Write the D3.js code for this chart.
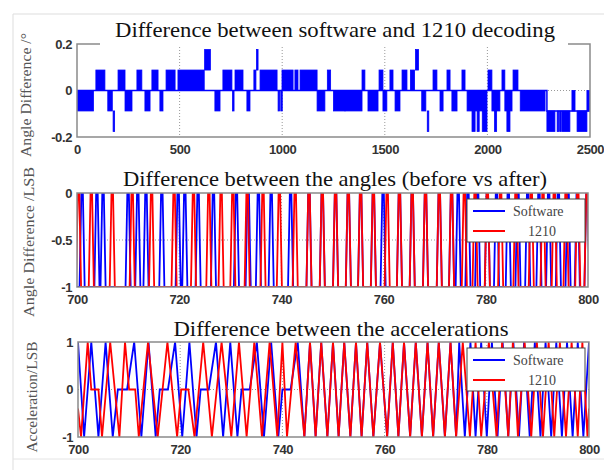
<!DOCTYPE html>
<html>
<head>
<meta charset="utf-8">
<script src="https://cdn.jsdelivr.net/npm/d3@7"></script>
<style>
    body { margin: 0; background: #fff; }
    svg { display: block; }
    .tick text { font-family: "Liberation Sans", Arial, sans-serif; font-weight: bold; font-size: 13px; letter-spacing: -0.4px; fill: #333; }
    .title { font-family: "Liberation Serif", "Times New Roman", serif; font-size: 22px; fill: #111; }
    .ylab { font-family: "Liberation Serif", "Times New Roman", serif; font-size: 14px; fill: #555; }
    .legend text { font-family: "Liberation Serif", "Times New Roman", serif; font-size: 14px; fill: #444; }
</style>
</head>
<body>
<svg id="chart" width="604" height="470"></svg>
<script>
// ---- panel 1 : difference software vs 1210 (degrees), x = sample
// dense toggling stretches: [from, to, low level, high level]
const diffBands = [
    [0, 80, -0.088, 0], [92, 136, 0, 0.088], [150, 172, -0.088, 0], [176, 182, -0.176, -0.088],
    [200, 234, 0, 0.088], [234, 268, -0.088, 0], [292, 316, 0, 0.088], [331, 356, -0.088, 0],
    [365, 395, 0, 0.088], [404, 419, -0.088, 0], [434, 478, 0, 0.088], [492, 620, 0, 0.088],
    [622, 650, 0.088, 0.176], [672, 697, -0.088, 0], [711, 755, 0, 0.088], [758, 762, -0.088, 0],
    [770, 809, 0, 0.088], [828, 843, -0.088, 0], [862, 872, 0, 0.088], [875, 878, 0.088, 0.176],
    [892, 975, 0, 0.088], [980, 984, -0.088, 0], [993, 997, -0.088, 0], [999, 1053, 0, 0.088],
    [1062, 1077, 0, 0.088], [1087, 1170, 0, 0.088], [1170, 1208, -0.088, 0], [1220, 1236, 0, 0.088],
    [1250, 1306, -0.088, 0], [1306, 1389, -0.088, 0], [1389, 1403, 0, 0.088], [1418, 1467, -0.088, 0],
    [1472, 1491, 0, 0.088], [1491, 1510, -0.088, 0], [1525, 1540, 0, 0.088], [1550, 1574, -0.088, 0],
    [1584, 1608, 0, 0.088], [1625, 1645, 0, 0.088], [1650, 1664, 0.088, 0.176], [1680, 1700, -0.088, 0],
    [1707, 1713, -0.176, -0.088], [1735, 1754, 0, 0.088], [1769, 1784, -0.088, 0], [1803, 1818, 0, 0.088],
    [1827, 1852, -0.088, 0], [1876, 1891, 0, 0.088], [1901, 1998, -0.088, 0], [1925, 1940, -0.176, -0.088],
    [1950, 1960, -0.176, -0.088], [1975, 1998, -0.176, -0.088], [2003, 2022, 0, 0.088], [2022, 2061, -0.088, 0],
    [2035, 2045, -0.176, -0.088], [2071, 2085, 0, 0.088], [2085, 2120, -0.088, 0], [2095, 2110, -0.176, -0.088],
    [2125, 2149, 0, 0.088], [2160, 2281, -0.088, 0], [2290, 2329, -0.176, -0.088], [2340, 2345, -0.176, -0.088],
    [2352, 2356, -0.176, -0.088], [2363, 2402, -0.176, -0.088], [2412, 2427, -0.088, 0], [2437, 2485, -0.176, -0.088],
    [2485, 2500, -0.088, 0]
];
// resting level between the bands
const diffBase = [[0, 0], [2290, -0.088], [2500, -0.088]];
const diffXTicks = [0, 500, 1000, 1500, 2000, 2500];
const diffYTicks = [-0.2, 0, 0.2];

// ---- panel 2 : angles (LSB), pulses from -1 up to 0, centre of each pulse
const angleSoftwarePeaks = [701.0, 703.9, 705.1, 710.0, 711.9, 713.5, 716.6, 719.8, 721.1, 723.7, 726.7,
    731.2, 733.5, 735.5, 738.0, 741.8, 745.4, 748.0, 750.6, 753.1, 755.5, 758.0, 759.9, 763.1, 765.6, 768.2,
    770.9, 773.3, 774.6, 776.5, 778.4, 780.3, 782.1, 784.4, 786.3, 788.2, 790.4, 792.3, 794.2, 796.1, 797.9, 799.8];
const angle1210Peaks = [700.3, 702.8, 706.9, 710.8, 714.6, 719.0, 722.8, 725.8, 728.2, 730.5, 733.3, 736.4,
    739.6, 742.7, 745.4, 748.0, 750.6, 753.1, 755.5, 758.0, 760.7, 763.1, 765.6, 768.2, 770.9, 773.3, 775.8,
    777.9, 780.3, 782.9, 785.9, 788.9, 791.2, 793.4, 795.7, 798.0, 799.8];
const angleXTicks = [700, 720, 740, 760, 780, 800];
const angleYTicks = [-1, -0.5, 0];

// ---- panel 3 : accelerations (LSB), vertices [x, y]
const accelSoftware = [[700, 1], [701.2, -1], [702.6, 1], [704, -1], [705.4, 1], [706.8, -1], [707.8, 0], [709.6, 0],
    [711, 1], [712.4, -1], [713.8, 1], [715.2, -1], [716, 0], [717.6, 0], [719, 1], [720.4, -1], [721.8, 1],
    [723.2, -1], [724, 0], [725.6, 0], [727, 1], [728.4, -1], [729.8, 1], [731.2, -1], [732, 0], [733.6, 0],
    [735, 1], [736.4, -1], [737.8, 1], [739.2, -1], [740, 0], [741.6, 0], [743, 1], [744.3, -1], [745.4, 1],
    [746.5, -1], [747.6, 1], [748.8, -1], [749.9, 1], [751, -1], [752.1, 1], [753.3, -1], [754.4, 1], [755.5, -1],
    [756.6, 1], [757.8, -1], [759.1, 1], [760.5, -1], [761.6, 1], [762.7, -1], [763.8, 1], [765, -1], [766.1, 1],
    [767.3, -1], [768.4, 1], [769.5, -1], [770.6, 1], [771.8, -1], [772.9, 1], [774, -1], [774.6, 1], [775.7, -1],
    [776.8, 1], [777.8, -1], [778.9, 1], [780, -1], [781, 1], [782.1, -1], [783.1, 1], [784.2, -1], [785.2, 1],
    [786.3, -1], [787.3, 1], [788.4, -1], [789.4, 1], [790.5, -1], [791.5, 1], [792.6, -1], [793.6, 1], [794.7, -1],
    [795.7, 1], [796.8, -1], [797.8, 1], [798.9, -1], [800, 1]];
const accel1210 = [[700, -0.4], [700.6, -1], [701.9, 1], [702.6, 0], [704, 0], [704.7, -1], [706.3, 1], [708.1, -1],
    [709.2, 1], [710, 0], [711.2, 0], [711.9, -1], [713.7, 1], [715.6, -1], [717.5, 1], [719.4, -1], [720.2, 0],
    [721.6, 0], [722.8, -1], [724.5, 1], [726.2, -1], [728.1, 1], [730, -1], [731.5, 1], [733, -1], [734.5, 1],
    [736, -1], [737.5, 1], [739, -1], [740, 1], [740.9, -1], [742.6, 1], [744.3, -1], [745.4, 1], [746.5, -1],
    [747.6, 1], [748.8, -1], [749.9, 1], [751, -1], [752.1, 1], [753.3, -1], [754.4, 1], [755.5, -1], [756.6, 1],
    [757.8, -1], [759.1, 1], [760.5, -1], [761.6, 1], [762.7, -1], [763.8, 1], [765, -1], [766.1, 1], [767.3, -1],
    [768.4, 1], [769.5, -1], [770.6, 1], [771.8, -1], [772.9, 1], [774, -1], [775.3, 1], [776.7, -1], [777.8, 1],
    [778.9, -1], [780.4, 1], [781.9, -1], [783, 1], [784.2, -1], [785.1, 1], [786.1, -1], [787.4, 1], [788.7, -1],
    [789.8, 1], [791, -1], [792.1, 1], [793.2, -1], [794.3, 1], [795.5, -1], [796.6, 1], [797.8, -1], [798.7, 1],
    [799.7, -1], [800, -0.4]];
const accelXTicks = [700, 720, 740, 760, 780, 800];
const accelYTicks = [-1, 0, 1];

const seriesNames = ['Software', '1210'];
const seriesColors = ['#0000ff', '#ff0000'];

let svg = d3.select('#chart');

// faint page frame around the figure
svg.append('path').attr('d', 'M13,470V14H604').attr('fill', 'none').attr('stroke', '#ddd');
svg.append('path').attr('d', 'M13,459H604').attr('fill', 'none').attr('stroke', '#e4e4e4');

function makePanel(id, box, xDomain, yDomain, xTicks, yTicks) {
    let x = d3.scaleLinear().domain(xDomain).range([box.left, box.right]);
    let y = d3.scaleLinear().domain(yDomain).range([box.bottom, box.top]);

    svg.append('clipPath').attr('id', 'clip' + id)
        .append('rect')
        .attr('x', box.left).attr('y', box.top)
        .attr('width', box.right - box.left).attr('height', box.bottom - box.top);

    // dotted grid (matlab style)
    let grid = svg.append('g').attr('stroke', '#999').attr('stroke-dasharray', '1,2').attr('stroke-width', 1);
    xTicks.slice(1, -1).forEach(t => {
        grid.append('line').attr('x1', x(t)).attr('x2', x(t)).attr('y1', box.top).attr('y2', box.bottom);
    });
    yTicks.slice(1, -1).forEach(t => {
        grid.append('line').attr('y1', y(t)).attr('y2', y(t)).attr('x1', box.left).attr('x2', box.right);
    });

    let xAxis = d3.axisBottom(x).tickValues(xTicks).tickSize(0).tickPadding(8).tickFormat(d => String(d));
    let yAxis = d3.axisLeft(y).tickValues(yTicks).tickSize(0).tickPadding(5).tickFormat(d => String(d));
    svg.append('g').attr('transform', `translate(0,${box.bottom})`).call(xAxis).select('.domain').remove();
    svg.append('g').attr('transform', `translate(${box.left},0)`).call(yAxis).select('.domain').remove();

    let plot = svg.append('g').attr('clip-path', `url(#clip${id})`);
    return { x, y, plot, box };
}

function drawBox(p) {
    svg.append('rect')
        .attr('x', p.box.left).attr('y', p.box.top)
        .attr('width', p.box.right - p.box.left).attr('height', p.box.bottom - p.box.top)
        .attr('fill', 'none').attr('stroke', '#8a8a8a').attr('stroke-width', 1.5);
}

function title(text, cx, baseline, len) {
    svg.append('text').classed('title', true)
        .attr('x', cx).attr('y', baseline)
        .attr('text-anchor', 'middle')
        .attr('textLength', len).attr('lengthAdjust', 'spacingAndGlyphs')
        .text(text);
}

function ylabel(text, cx, cy, len) {
    svg.append('text').classed('ylab', true)
        .attr('transform', `translate(${cx},${cy})rotate(-90)`)
        .attr('text-anchor', 'middle').attr('dominant-baseline', 'central')
        .attr('textLength', len).attr('lengthAdjust', 'spacingAndGlyphs')
        .text(text);
}

function legend(p, top) {
    let g = svg.append('g').classed('legend', true);
    let left = 467, w = 118, h = 43;
    g.append('rect').attr('x', left).attr('y', top).attr('width', w).attr('height', h)
        .attr('fill', '#fff').attr('stroke', '#444').attr('stroke-width', 1);
    seriesNames.forEach((n, i) => {
        let yy = top + 12 + i * 20;
        g.append('line').attr('x1', left + 6).attr('x2', left + 38).attr('y1', yy).attr('y2', yy)
            .attr('stroke', seriesColors[i]).attr('stroke-width', 2);
        g.append('text').attr('x', i === 0 ? left + 46 : left + 75).attr('y', yy + 5)
            .attr('text-anchor', i === 0 ? 'start' : 'middle').text(n);
    });
}

// ---------- panel 1
let p1 = makePanel(1, { left: 77, right: 590, top: 44, bottom: 137 }, [0, 2500], [-0.2, 0.2], diffXTicks, diffYTicks);

p1.plot.append('path')
    .datum(diffBase)
    .attr('d', d3.line().x(d => p1.x(d[0])).y(d => p1.y(d[1])).curve(d3.curveStepAfter))
    .attr('fill', 'none').attr('stroke', '#0000ff').attr('stroke-width', 1.5);

p1.plot.selectAll('rect.band')
    .data(diffBands)
    .join('rect')
    .classed('band', true)
    .attr('x', d => p1.x(d[0]))
    .attr('width', d => Math.max(1.5, p1.x(d[1]) - p1.x(d[0])))
    .attr('y', d => p1.y(d[3]))
    .attr('height', d => p1.y(d[2]) - p1.y(d[3]))
    .attr('fill', '#0000ff')
    .attr('stroke', '#0000ff').attr('stroke-width', 0.8);

drawBox(p1);
// title sits on a white patch that hides the top edge of the box
svg.append('rect').attr('x', 100).attr('y', 18).attr('width', 468).attr('height', 27).attr('fill', '#fff');
title('Difference between software and 1210 decoding', 335, 37, 440);

// ---------- panel 2
let p2 = makePanel(2, { left: 77, right: 588, top: 193, bottom: 287 }, [700, 800], [-1, 0], angleXTicks, angleYTicks);

function pulsePath(peaks) {
    let pts = [[700, -1]];
    peaks.forEach(c => {
        pts.push([c - 0.5, -1], [c - 0.15, 0], [c + 0.15, 0], [c + 0.5, -1]);
    });
    pts.push([800, -1]);
    return pts;
}

[angleSoftwarePeaks, angle1210Peaks].forEach((peaks, i) => {
    p2.plot.append('path')
        .datum(pulsePath(peaks))
        .attr('d', d3.line().x(d => p2.x(d[0])).y(d => p2.y(d[1])))
        .attr('fill', 'none').attr('stroke', seriesColors[i]).attr('stroke-width', 1.8);
});
drawBox(p2);
legend(p2, 199);
title('Difference between the angles (before vs after)', 335, 186, 424);

// ---------- panel 3
let p3 = makePanel(3, { left: 78, right: 589, top: 342, bottom: 437 }, [700, 800], [-1, 1], accelXTicks, accelYTicks);

[accelSoftware, accel1210].forEach((s, i) => {
    p3.plot.append('path')
        .datum(s)
        .attr('d', d3.line().x(d => p3.x(d[0])).y(d => p3.y(d[1])))
        .attr('fill', 'none').attr('stroke', seriesColors[i]).attr('stroke-width', 1.8);
});
drawBox(p3);
legend(p3, 348);
title('Difference between the accelerations', 341, 336, 335);

// ---------- y labels
ylabel('Angle Difference /°', 26, 95, 124);
ylabel('Angle Difference /LSB', 29, 242, 150);
ylabel('Acceleration/LSB', 32, 397, 111);
</script>
</body>
</html>
